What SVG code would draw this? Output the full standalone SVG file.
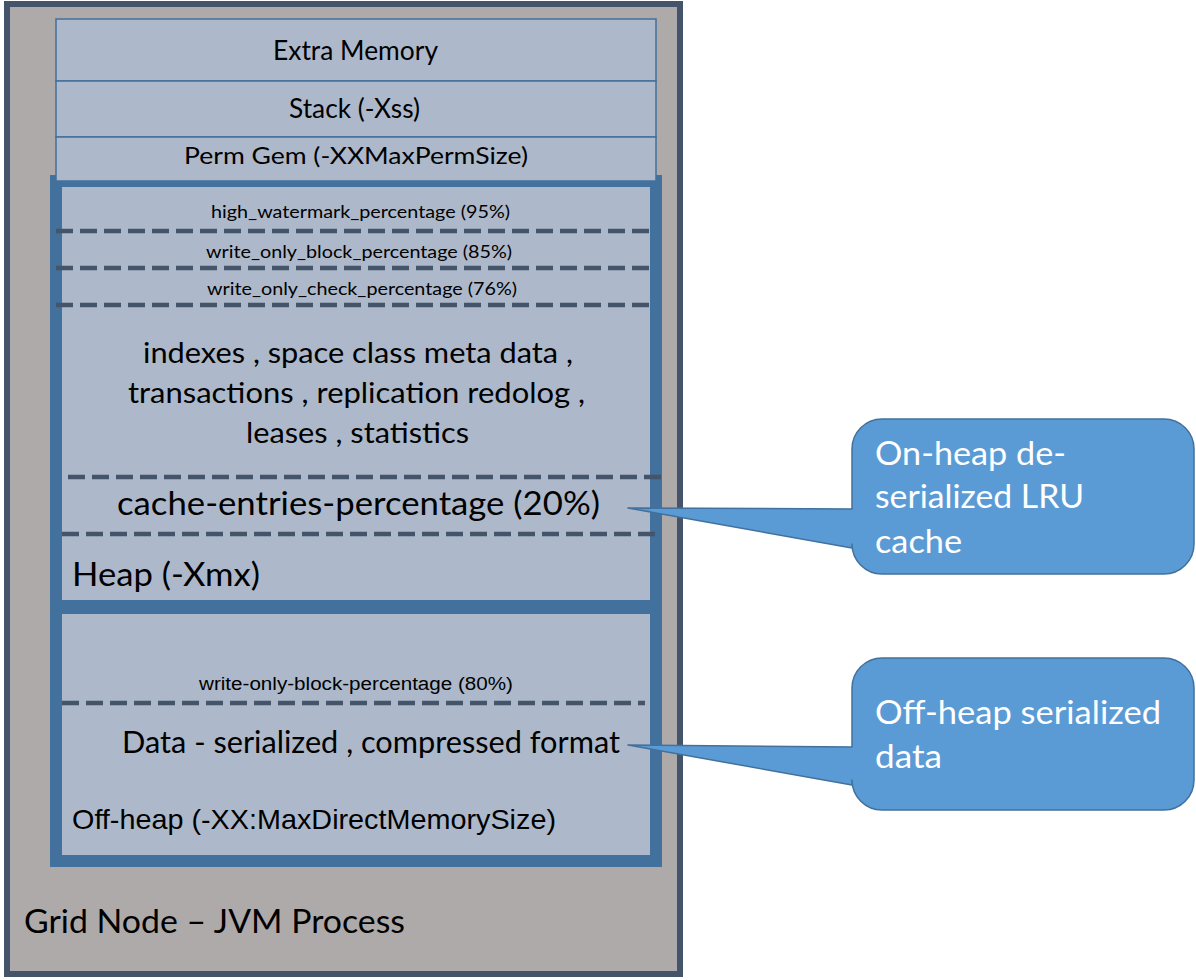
<svg xmlns="http://www.w3.org/2000/svg" width="1196" height="980" viewBox="0 0 1196 980">
<style>
.t{font-family:Lato,"Open Sans","Liberation Sans",sans-serif;fill:#000}
.a{font-family:"Liberation Sans",Arial,sans-serif;fill:#000}
.w{font-family:Lato,"Open Sans","Liberation Sans",sans-serif;fill:#fff}
.box{fill:#ADB9CA;stroke:#41719C;stroke-width:1.5}
.thick{fill:#ADB9CA;stroke:#41719C;stroke-width:12}
.dash{stroke:#44546A;stroke-width:4.5;stroke-dasharray:17 7;fill:none}
.call{fill:#5B9BD5;stroke:#41719C;stroke-width:1.5;stroke-linejoin:round}
</style>
<rect width="1196" height="980" fill="#fff"/>
<g id="jvm">
<rect x="7" y="4" width="673" height="970" fill="#AEAAAA" stroke="#44546A" stroke-width="6"/>
<text class="t" x="24" y="933" font-size="33" textLength="381" lengthAdjust="spacingAndGlyphs">Grid Node – JVM Process</text>
</g>
<g id="heap">
<rect class="thick" x="56" y="181" width="600" height="425"/>
<text class="t" x="143" y="363" font-size="28" textLength="430" lengthAdjust="spacingAndGlyphs">indexes , space class meta data ,</text>
<text class="t" x="128" y="403" font-size="28" textLength="457" lengthAdjust="spacingAndGlyphs">transactions , replication redolog ,</text>
<text class="t" x="246" y="443" font-size="28" textLength="223" lengthAdjust="spacingAndGlyphs">leases , statistics</text>
<text class="t" x="117" y="515" font-size="33" textLength="483" lengthAdjust="spacingAndGlyphs">cache-entries-percentage (20%)</text>
<text class="t" x="72" y="586" font-size="32" textLength="188" lengthAdjust="spacingAndGlyphs">Heap (-Xmx)</text>
<text class="t" x="211" y="218" font-size="18" textLength="299" lengthAdjust="spacingAndGlyphs">high_watermark_percentage (95%)</text>
<text class="t" x="206" y="258" font-size="18" textLength="306" lengthAdjust="spacingAndGlyphs">write_only_block_percentage (85%)</text>
<text class="t" x="207" y="295" font-size="18" textLength="310" lengthAdjust="spacingAndGlyphs">write_only_check_percentage (76%)</text>
</g>
<g id="offheap">
<rect class="thick" x="56" y="608" width="600" height="253"/>
<text class="a" x="199" y="690" font-size="18" textLength="314" lengthAdjust="spacingAndGlyphs">write-only-block-percentage (80%)</text>
<text class="t" x="122" y="753" font-size="31" textLength="498" lengthAdjust="spacingAndGlyphs">Data - serialized , compressed format</text>
<text class="a" x="72" y="829" font-size="28" textLength="484" lengthAdjust="spacingAndGlyphs">Off-heap (-XX:MaxDirectMemorySize)</text>
</g>
<g id="extra-memory">
<rect class="box" x="56" y="19" width="600" height="62"/>
<text class="t" x="273" y="60" font-size="26" textLength="165" lengthAdjust="spacingAndGlyphs">Extra Memory</text>
</g>
<g id="stack">
<rect class="box" x="56" y="81" width="600" height="56"/>
<text class="t" x="289" y="118" font-size="26" textLength="131" lengthAdjust="spacingAndGlyphs">Stack (-Xss)</text>
</g>
<g id="permgem">
<rect class="box" x="56" y="137" width="600" height="44"/>
<text class="t" x="184" y="164" font-size="24" textLength="344" lengthAdjust="spacingAndGlyphs">Perm Gem (-XXMaxPermSize)</text>
</g>
<g id="connectors">
<line class="dash" x1="56" y1="231" x2="650" y2="231"/>
<line class="dash" x1="56" y1="268" x2="650" y2="268"/>
<line class="dash" x1="56" y1="305" x2="650" y2="305"/>
<line class="dash" x1="68" y1="477" x2="661" y2="477"/>
<line class="dash" x1="62" y1="534" x2="656" y2="534"/>
<line class="dash" x1="62" y1="703" x2="645" y2="703"/>
</g>
<g id="callout-onheap">
<path class="call" d="M882,419 H1164 A30,30 0 0 1 1194,449 V544 A30,30 0 0 1 1164,574 H882 A30,30 0 0 1 852,544 V548 L628,508 L852,509 V449 A30,30 0 0 1 882,419 Z"/>
<text class="w" x="875" y="465" font-size="33" textLength="191" lengthAdjust="spacingAndGlyphs">On-heap de-</text>
<text class="w" x="875" y="508" font-size="33" textLength="209" lengthAdjust="spacingAndGlyphs">serialized LRU</text>
<text class="w" x="875" y="553" font-size="33" textLength="87" lengthAdjust="spacingAndGlyphs">cache</text>
</g>
<g id="callout-offheap">
<path class="call" d="M882,658 H1164 A30,30 0 0 1 1194,688 V780 A30,30 0 0 1 1164,810 H882 A30,30 0 0 1 852,780 V785 L628,745 L852,747 V688 A30,30 0 0 1 882,658 Z"/>
<text class="w" x="875" y="724" font-size="33" textLength="286" lengthAdjust="spacingAndGlyphs">Off-heap serialized</text>
<text class="w" x="875" y="768" font-size="33" textLength="67" lengthAdjust="spacingAndGlyphs">data</text>
</g>
</svg>
